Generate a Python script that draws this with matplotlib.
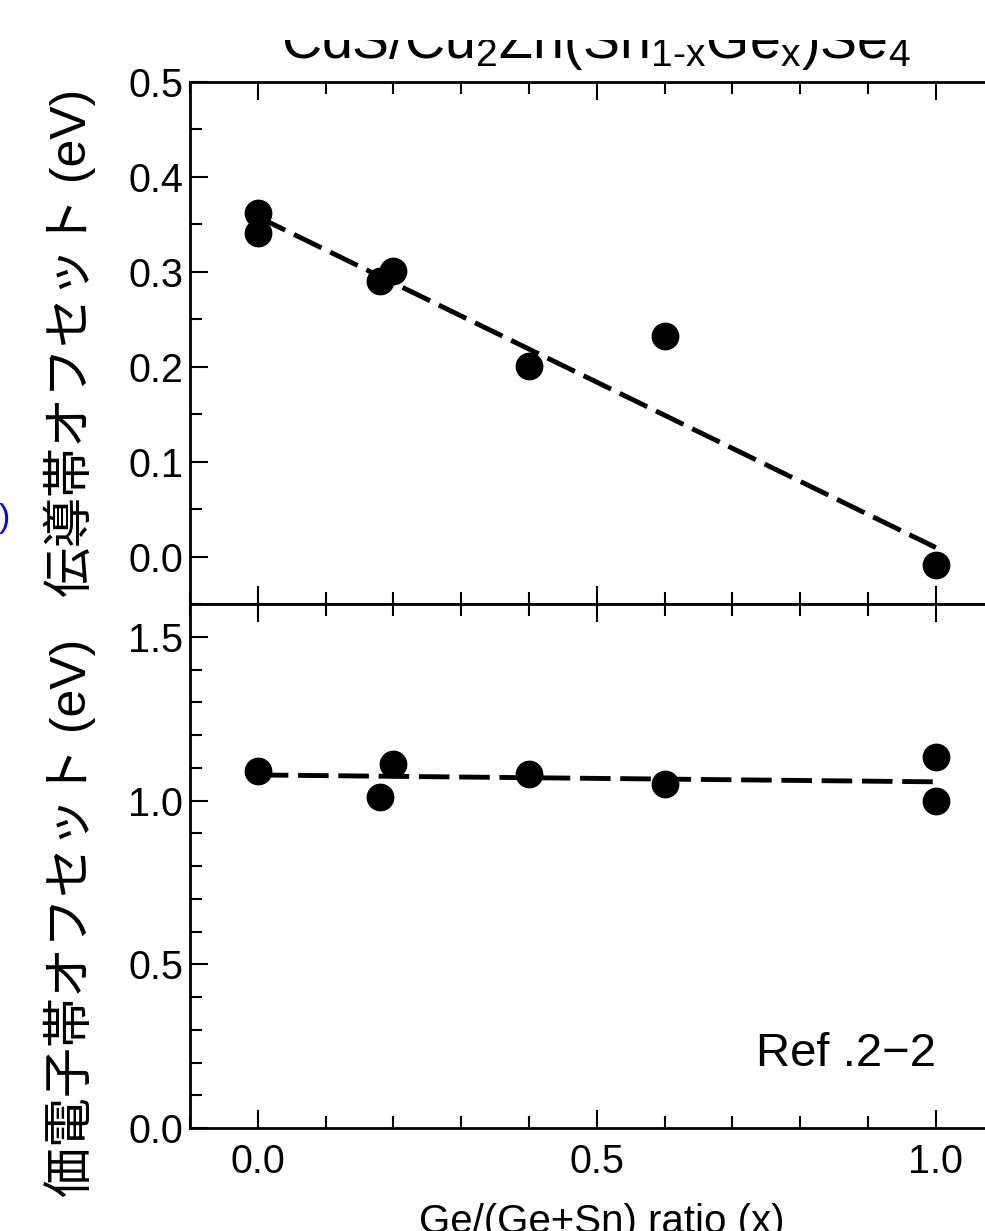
import matplotlib
matplotlib.use("Agg")
import matplotlib.pyplot as plt
from matplotlib.ticker import MultipleLocator
from matplotlib.patches import Rectangle

plt.rcParams['font.family'] = ['Liberation Sans', 'Noto Sans CJK JP']
plt.rcParams['mathtext.fontset'] = 'custom'
plt.rcParams['mathtext.rm'] = 'Liberation Sans'
plt.rcParams['mathtext.it'] = 'Liberation Sans'
plt.rcParams['mathtext.bf'] = 'Liberation Sans:bold'
plt.rcParams['lines.scale_dashes'] = False

# ---- data ----
cb_x = [0.0, 0.0, 0.18, 0.20, 0.40, 0.60, 1.00]
cb_y = [0.362, 0.341, 0.290, 0.301, 0.201, 0.232, -0.009]
vb_x = [0.0, 0.18, 0.20, 0.40, 0.60, 1.00, 1.00]
vb_y = [1.090, 1.011, 1.112, 1.081, 1.051, 1.133, 0.999]
fit_x = [0.0, 1.0]
cb_fit = [0.358, 0.0095]
vb_fit = [1.078, 1.057]

title = r'CdS/Cu$_2$Zn(Sn$_{1\text{-}x}$Ge$_x$)Se$_4$'
cb_label = '伝導帯オフセット (eV)'
vb_label = '価電子帯オフセット (eV)'
x_label = 'Ge/(Ge+Sn) ratio (x)'
ref_text = 'Ref .2\u22122'

W, H = 985, 1231
fig = plt.figure(figsize=(W / 100, H / 100), dpi=100)

left = 190 / W
width = 813.6 / W
ax1 = fig.add_axes([left, 1 - 604 / H, width, 522 / H])
ax2 = fig.add_axes([left, 1 - 1128 / H, width, 524 / H])

for ax in (ax1, ax2):
    ax.set_xlim(-0.1, 1.1)
    ax.xaxis.set_major_locator(MultipleLocator(0.5))
    ax.xaxis.set_minor_locator(MultipleLocator(0.1))
    ax.tick_params(which='both', direction='in', top=True, bottom=True,
                   left=True, right=False, width=1.5, labelsize=28.5)
    ax.tick_params(which='major', length=13)
    ax.tick_params(which='minor', length=8.5)
    ax.tick_params(axis='y', pad=5)
    ax.tick_params(axis='x', pad=11)
    for s in ax.spines.values():
        s.set_linewidth(2)

ax1.set_ylim(-0.05, 0.5)
ax1.yaxis.set_major_locator(MultipleLocator(0.1))
ax1.yaxis.set_minor_locator(MultipleLocator(0.05))
ax1.tick_params(labelbottom=False)

ax2.set_ylim(0.0, 1.6)
ax2.yaxis.set_major_locator(MultipleLocator(0.5))
ax2.yaxis.set_minor_locator(MultipleLocator(0.1))

ax1.plot(fit_x, cb_fit, color='black', lw=3.5, dashes=(22, 7), zorder=2)
ax1.plot(cb_x, cb_y, 'o', color='black', ms=19, zorder=3, clip_on=False)
ax2.plot(fit_x, vb_fit, color='black', lw=3.5, dashes=(22, 7), zorder=2)
ax2.plot(vb_x, vb_y, 'o', color='black', ms=19, zorder=3, clip_on=False)

ax2.text(1.0, 0.19, ref_text, ha='right', va='baseline', fontsize=34)

fig.text(70 / W, 1 - 343 / H, cb_label, rotation=90, ha='center', va='center', fontsize=36)
fig.text(70 / W, 1 - 918 / H, vb_label, rotation=90, ha='center', va='center', fontsize=36)
fig.text(602 / W, 1 - 1203 / H, x_label, ha='center', va='top', fontsize=29)
fig.text(596 / W, 1 - 58 / H, title, ha='center', va='baseline', fontsize=40)
fig.text(10 / W, 1 - 518 / H, ')', ha='right', va='center', fontsize=24, color='#0000ff')

fig.patches.append(Rectangle((0, 1 - 40 / H), 1, 40 / H, transform=fig.transFigure,
                             facecolor='white', edgecolor='none', zorder=10))

fig.savefig('out.png', dpi=100)
